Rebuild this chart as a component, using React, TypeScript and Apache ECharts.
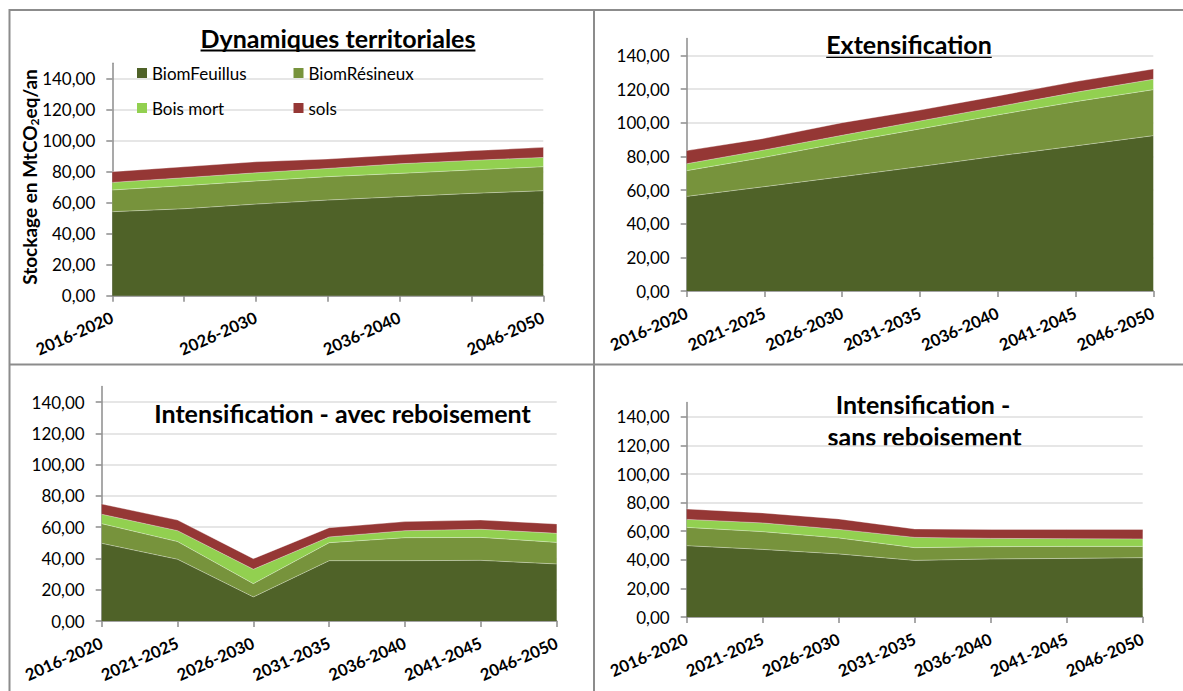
import React, { useEffect, useRef } from "react";
import * as echarts from "echarts";

const categories = ["2016-2020", "2021-2025", "2026-2030", "2031-2035", "2036-2040", "2041-2045", "2046-2050"];
const seriesNames = ["BiomFeuillus", "BiomRésineux", "Bois mort", "sols"];
const seriesColors = ["#4F6228", "#77933C", "#92D050", "#953735"];
const yTicks = [0, 20, 40, 60, 80, 100, 120, 140];

// Dynamiques territoriales
const dynFeuillus = [54.2, 56.1, 59.1, 61.7, 63.9, 66.0, 67.7];
const dynResineux = [14.0, 14.9, 14.9, 15.1, 15.0, 15.1, 15.5];
const dynBoisMort = [4.9, 5.1, 5.3, 5.3, 6.2, 6.2, 6.0];
const dynSols = [6.9, 7.1, 7.1, 6.1, 5.8, 6.2, 6.5];

// Extensification
const extFeuillus = [56.2, 62.0, 67.9, 73.9, 80.2, 86.2, 92.3];
const extResineux = [15.3, 17.4, 20.2, 22.4, 24.4, 26.3, 27.3];
const extBoisMort = [4.1, 4.4, 4.4, 4.7, 4.9, 5.5, 6.2];
const extSols = [7.8, 6.9, 7.5, 6.5, 6.4, 6.4, 6.1];

// Intensification - avec reboisement
const avecFeuillus = [49.7, 39.5, 15.4, 38.6, 38.6, 38.8, 36.5];
const avecResineux = [12.6, 11.3, 8.5, 11.5, 14.7, 14.7, 13.8];
const avecBoisMort = [6.0, 7.0, 9.2, 3.7, 4.5, 5.2, 5.8];
const avecSols = [6.6, 6.8, 6.8, 5.9, 5.8, 5.9, 6.0];

// Intensification - sans reboisement
const sansFeuillus = [49.9, 47.3, 44.1, 39.6, 40.6, 41.0, 41.5];
const sansResineux = [12.8, 12.4, 11.2, 8.9, 8.6, 8.4, 7.9];
const sansBoisMort = [5.6, 6.1, 6.0, 7.2, 5.8, 5.4, 5.2];
const sansSols = [7.3, 7.0, 7.3, 5.9, 6.3, 6.5, 6.7];

const panelData = [
  [dynFeuillus, dynResineux, dynBoisMort, dynSols],
  [extFeuillus, extResineux, extBoisMort, extSols],
  [avecFeuillus, avecResineux, avecBoisMort, avecSols],
  [sansFeuillus, sansResineux, sansBoisMort, sansSols],
];

const FONT = "Lato, 'Open Sans', sans-serif";
const AXIS_GRAY = "#8c8c8c";

const grids = [
  { left: 112.3, top: 63.2, width: 431, height: 232.5 },
  { left: 686.7, top: 38.5, width: 466.6, height: 252.5 },
  { left: 101.7, top: 386.6, width: 455, height: 234.4 },
  { left: 686.7, top: 402.6, width: 456, height: 214.4 },
];

function measure(text: string, font: string): number {
  const ctx = document.createElement("canvas").getContext("2d");
  if (!ctx) return text.length * 11;
  ctx.font = font;
  return ctx.measureText(text).width;
}

export default function App() {
  const ref = useRef<HTMLDivElement>(null);

  useEffect(() => {
    if (!ref.current) return;
    const chart = echarts.init(ref.current, null, { renderer: "svg" });

    const TITLE_SIZE = 25;
    const titleFont = `bold ${TITLE_SIZE}px ${FONT}`;
    const t1 = "Dynamiques territoriales";
    const t2 = "Extensification";
    const w1 = measure(t1, titleFont);
    const w2 = measure(t2, titleFont);

    const titleText = (text: string, x: number, y: number) => ({
      type: "text",
      x,
      y,
      style: {
        text,
        fontFamily: FONT,
        fontWeight: "bold",
        fontSize: TITLE_SIZE,
        fill: "#000",
        align: "center",
        verticalAlign: "middle",
      },
    });

    const border = (x1: number, y1: number, x2: number, y2: number) => ({
      type: "line",
      shape: { x1, y1, x2, y2 },
      style: { stroke: AXIS_GRAY, lineWidth: 2 },
    });

    const series: any[] = [];
    panelData.forEach((arrs, p) => {
      arrs.forEach((vals, s) => {
        series.push({
          type: "line",
          name: seriesNames[s],
          xAxisIndex: p,
          yAxisIndex: p,
          stack: "panel" + p,
          data: vals,
          symbol: "none",
          showSymbol: false,
          lineStyle: { width: 1, color: "rgba(255,255,255,0.35)" },
          areaStyle: { color: seriesColors[s], opacity: 1 },
          itemStyle: { color: seriesColors[s] },
          z: 2,
        });
      });
    });

    const legendBase = {
      orient: "vertical",
      top: 64,
      padding: 0,
      itemWidth: 10,
      itemHeight: 10,
      itemGap: 17,
      icon: "rect",
      selectedMode: false,
      textStyle: { fontFamily: FONT, fontSize: 17, color: "#000", lineHeight: 18 },
    };

    chart.setOption({
      animation: false,
      backgroundColor: "#fff",
      color: seriesColors,
      grid: grids.map((g) => ({ ...g, containLabel: false })),
      legend: [
        { ...legendBase, left: 137, data: ["BiomFeuillus", "Bois mort"] },
        { ...legendBase, left: 293.5, data: ["BiomRésineux", "sols"] },
      ],
      xAxis: grids.map((_, i) => ({
        type: "category",
        gridIndex: i,
        data: categories,
        boundaryGap: false,
        axisLine: { show: true, lineStyle: { color: AXIS_GRAY, width: 1.5 } },
        axisTick: { show: true, interval: 0, length: 6, lineStyle: { color: AXIS_GRAY, width: 1.5 } },
        axisLabel: {
          interval: i === 0 ? 1 : 0,
          rotate: 24,
          margin: 21,
          fontFamily: FONT,
          fontWeight: "bold",
          fontSize: 16.5,
          color: "#000",
        },
        splitLine: { show: false },
      })),
      yAxis: grids.map((_, i) => ({
        type: "value",
        gridIndex: i,
        min: 0,
        max: 150,
        interval: 20,
        axisLine: { show: true, lineStyle: { color: AXIS_GRAY, width: 1.5 } },
        axisTick: { show: true, length: 6, customValues: yTicks, lineStyle: { color: AXIS_GRAY, width: 1.5 } },
        axisLabel: {
          customValues: yTicks,
          margin: 17,
          fontFamily: FONT,
          fontSize: 17,
          color: "#000",
          formatter: (v: number) => v.toFixed(2).replace(".", ","),
        },
        splitLine: { show: true, lineStyle: { color: "#dedede", width: 1.5 } },
      })),
      series,
      graphic: [
        border(9.5, 10, 1183, 10),
        border(9.5, 364.5, 1183, 364.5),
        border(9.5, 9, 9.5, 691),
        border(594, 9, 594, 691),
        titleText(t1, 338, 37.7),
        { type: "line", shape: { x1: 338 - w1 / 2, y1: 50.5, x2: 338 + w1 / 2, y2: 50.5 }, style: { stroke: "#000", lineWidth: 2 } },
        titleText(t2, 909, 43.7),
        { type: "line", shape: { x1: 909 - w2 / 2, y1: 57, x2: 909 + w2 / 2, y2: 57 }, style: { stroke: "#000", lineWidth: 2 } },
        titleText("Intensification - avec reboisement", 342.5, 412.7),
        titleText("Intensification -", 923, 403.7),
        titleText("sans reboisement", 924.5, 435.7),
        {
          type: "text",
          x: 29,
          y: 177,
          rotation: Math.PI / 2,
          style: {
            text: "{a|Stockage en MtCO}{s|2}{a|eq/an}",
            align: "center",
            verticalAlign: "middle",
            rich: {
              a: { fontFamily: FONT, fontWeight: "bold", fontSize: 19, lineHeight: 22, fill: "#000", verticalAlign: "middle" },
              s: { fontFamily: FONT, fontWeight: "bold", fontSize: 12, lineHeight: 12, fill: "#000", verticalAlign: "bottom" },
            },
          },
        },
      ],
    });

    return () => chart.dispose();
  }, []);

  return (
    <div
      ref={ref}
      style={{ position: "fixed", left: 0, top: 0, width: 1183, height: 691, background: "#fff" }}
    />
  );
}
